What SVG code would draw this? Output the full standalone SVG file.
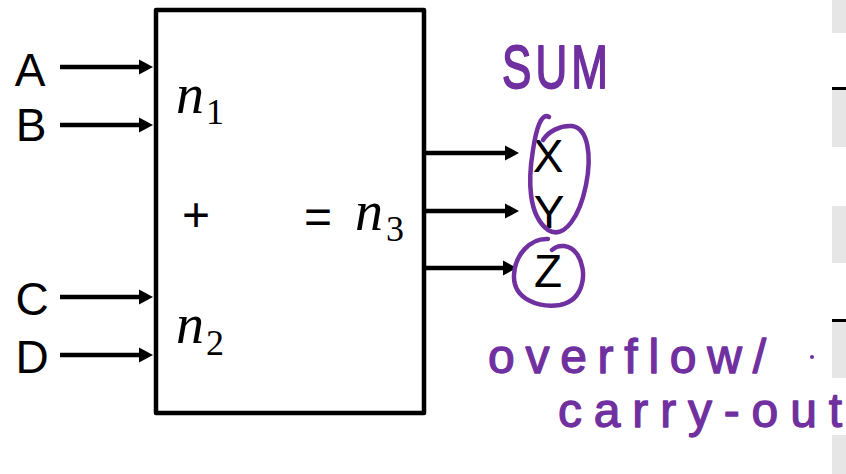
<svg xmlns="http://www.w3.org/2000/svg" width="846" height="474" viewBox="0 0 846 474">
<style>
.lbl{font-family:"Liberation Sans",Arial,sans-serif;font-size:46px;fill:#000}
.var{font-family:"Liberation Serif","Times New Roman",serif;font-style:italic;font-size:56px;fill:#000}
.sub{font-family:"Liberation Serif","Times New Roman",serif;font-size:36px;fill:#000}
.op{font-family:"Liberation Sans",Arial,sans-serif;font-size:48px;fill:#000;text-anchor:middle}
.ink{font-family:"Liberation Sans",Arial,sans-serif;fill:#7030A0;stroke:#7030A0;stroke-width:1.3;stroke-linejoin:round}
.wire{stroke:#000;stroke-width:4.5;fill:none;marker-end:url(#ah)}
.loop{fill:none;stroke:#7030A0;stroke-width:4.5;stroke-linecap:round;stroke-linejoin:round}
.side{fill:#E6E6E6}
</style>
<defs>
<marker id="ah" markerUnits="userSpaceOnUse" markerWidth="14" markerHeight="16" refX="6" refY="8" orient="auto">
<path d="M0,0.5 L14,8 L0,15.5 z" fill="#000"/>
</marker>
</defs>
<rect width="846" height="474" fill="#fff"/>
<g id="side-panel">
<rect class="side" x="832" y="0" width="14" height="33"/>
<rect x="832" y="87" width="14" height="3" fill="#000"/>
<rect class="side" x="832" y="90" width="14" height="57"/>
<rect class="side" x="832" y="206" width="14" height="57"/>
<rect x="832" y="319" width="14" height="3" fill="#000"/>
<rect class="side" x="832" y="322" width="14" height="56"/>
<rect class="side" x="832" y="435" width="14" height="39"/>
</g>
<g id="adder">
<rect x="156" y="10" width="268" height="403" fill="none" stroke="#000" stroke-width="4.5" stroke-linejoin="round"/>
<text class="var" x="176" y="113">n</text><text class="sub" x="206" y="124">1</text>
<text class="op" x="196" y="231">+</text>
<text class="op" x="318" y="233">=</text>
<text class="var" x="355" y="230">n</text><text class="sub" x="386" y="241">3</text>
<text class="var" x="176" y="343">n</text><text class="sub" x="206" y="355">2</text>
</g>
<g id="in-A"><text class="lbl" x="30" y="86" text-anchor="middle">A</text></g>
<g id="in-B"><text class="lbl" x="31" y="141" text-anchor="middle">B</text></g>
<g id="in-C"><text class="lbl" x="32" y="315" text-anchor="middle">C</text></g>
<g id="in-D"><text class="lbl" x="32" y="373" text-anchor="middle">D</text></g>
<g id="out-X"><text class="lbl" x="548" y="172" text-anchor="middle">X</text></g>
<g id="out-Y"><text class="lbl" x="549" y="228" text-anchor="middle">Y</text></g>
<g id="out-Z"><text class="lbl" x="548" y="287" text-anchor="middle">Z</text></g>
<g id="connectors">
<line class="wire" x1="60" y1="67" x2="145" y2="67"/>
<line class="wire" x1="60" y1="125" x2="145" y2="125"/>
<line class="wire" x1="60" y1="297" x2="145" y2="297"/>
<line class="wire" x1="60" y1="355" x2="145" y2="355"/>
<line class="wire" x1="426" y1="153" x2="511" y2="153"/>
<line class="wire" x1="426" y1="211" x2="511" y2="211"/>
<line class="wire" x1="426" y1="268" x2="509" y2="268"/>
</g>
<g id="annotations">
<text class="ink" transform="translate(502,88) scale(1,1.4)" x="0" y="0" font-size="44" textLength="106" lengthAdjust="spacing">SUM</text>
<path class="loop" d="M549 117 C541 112 536 130 533 150 C528 180 528 215 548 230 C565 240 580 215 586 185 C592 155 588 128 572 126 C560 125 548 132 543 140"/>
<path class="loop" d="M548 239 C530 238 515 255 514 275 C513 300 540 308 560 305 C585 300 588 270 577 254 C570 244 558 244 552 250"/>
<text class="ink" x="488" y="373" font-size="48" textLength="278" lengthAdjust="spacing">overflow/</text>
<circle cx="812" cy="357" r="2" fill="#7030A0"/>
<text class="ink" x="558" y="427" font-size="48" textLength="284" lengthAdjust="spacing">carry-out</text>
</g>
</svg>
